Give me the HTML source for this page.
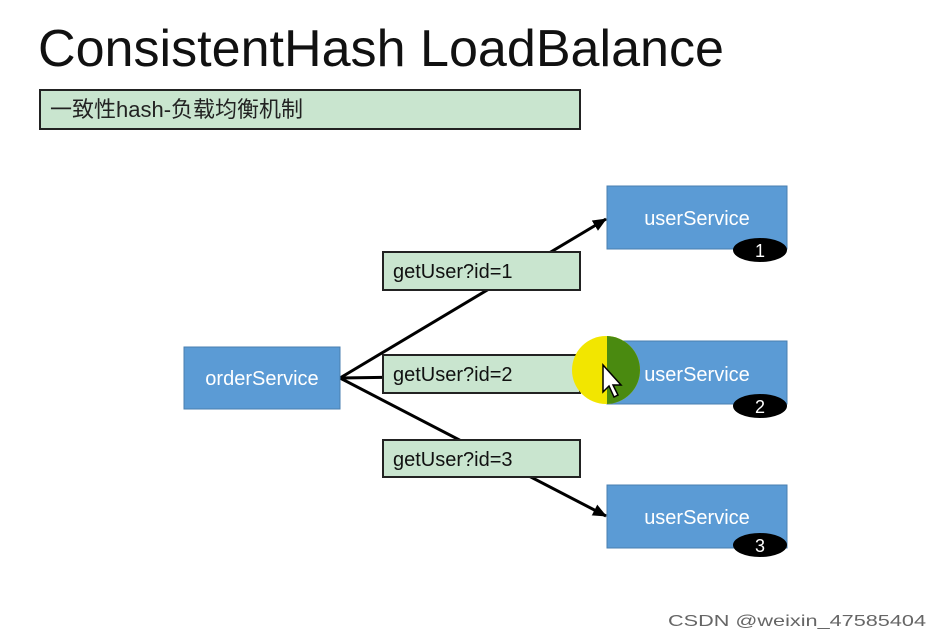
<!DOCTYPE html>
<html><head><meta charset="utf-8"><style>
html,body{margin:0;padding:0;background:#fff;}
svg{display:block;font-family:"Liberation Sans","Noto Sans CJK SC",sans-serif;}
</style></head><body>
<svg width="942" height="639" viewBox="0 0 942 639" xmlns="http://www.w3.org/2000/svg">
<defs>
<marker id="ar" markerWidth="14" markerHeight="12" refX="13" refY="6" orient="auto" markerUnits="userSpaceOnUse">
<path d="M0,0 L14,6 L0,12 z" fill="#000"/></marker>
<clipPath id="cr"><rect x="607" y="330" width="60" height="90"/></clipPath>
</defs>
<rect width="942" height="639" fill="#fff"/>
<text x="38" y="66" font-size="52" fill="#111" textLength="686" lengthAdjust="spacingAndGlyphs">ConsistentHash LoadBalance</text>
<rect x="40" y="90" width="540" height="39" fill="#c9e5cf" stroke="#222" stroke-width="2"/>
<text x="50" y="117" font-size="22" fill="#222">一致性hash-负载均衡机制</text>

<line x1="340" y1="378" x2="606" y2="219" stroke="#000" stroke-width="3" marker-end="url(#ar)"/>
<line x1="340" y1="378" x2="606" y2="374" stroke="#000" stroke-width="3" marker-end="url(#ar)"/>
<line x1="340" y1="378" x2="606" y2="516" stroke="#000" stroke-width="3" marker-end="url(#ar)"/>

<rect x="184" y="347" width="156" height="62" fill="#5b9bd5" stroke="#4a7fb0"/>
<text x="262" y="385" font-size="20" fill="#fff" text-anchor="middle">orderService</text>

<rect x="383" y="252" width="197" height="38" fill="#c9e5cf" stroke="#222" stroke-width="2"/>
<text x="393" y="278" font-size="20" fill="#111">getUser?id=1</text>
<rect x="383" y="355" width="197" height="38" fill="#c9e5cf" stroke="#222" stroke-width="2"/>
<text x="393" y="381" font-size="20" fill="#111">getUser?id=2</text>
<rect x="383" y="440" width="197" height="37" fill="#c9e5cf" stroke="#222" stroke-width="2"/>
<text x="393" y="466" font-size="20" fill="#111">getUser?id=3</text>

<rect x="607" y="186" width="180" height="63" fill="#5b9bd5" stroke="#4a7fb0"/>
<text x="697" y="225" font-size="20" fill="#fff" text-anchor="middle">userService</text>
<rect x="607" y="341" width="180" height="63" fill="#5b9bd5" stroke="#4a7fb0"/>
<circle cx="606" cy="370" r="34" fill="#f2e600"/>
<circle cx="606" cy="370" r="34" fill="#4a8a10" clip-path="url(#cr)"/>
<text x="697" y="381" font-size="20" fill="#fff" text-anchor="middle">userService</text>
<rect x="607" y="485" width="180" height="63" fill="#5b9bd5" stroke="#4a7fb0"/>
<text x="697" y="524" font-size="20" fill="#fff" text-anchor="middle">userService</text>

<path d="M603,365 L603,392 L609,386 L614,397 L618,395 L613,385 L621,385 z" fill="#fff" stroke="#000" stroke-width="1.5"/>

<ellipse cx="760" cy="250" rx="27" ry="12" fill="#000"/>
<text x="760" y="257" font-size="18" fill="#fff" text-anchor="middle">1</text>
<ellipse cx="760" cy="406" rx="27" ry="12" fill="#000"/>
<text x="760" y="413" font-size="18" fill="#fff" text-anchor="middle">2</text>
<ellipse cx="760" cy="545" rx="27" ry="12" fill="#000"/>
<text x="760" y="552" font-size="18" fill="#fff" text-anchor="middle">3</text>

<text x="668" y="626" font-size="16" fill="#666" textLength="258" lengthAdjust="spacingAndGlyphs">CSDN @weixin_47585404</text>
</svg>
</body></html>
